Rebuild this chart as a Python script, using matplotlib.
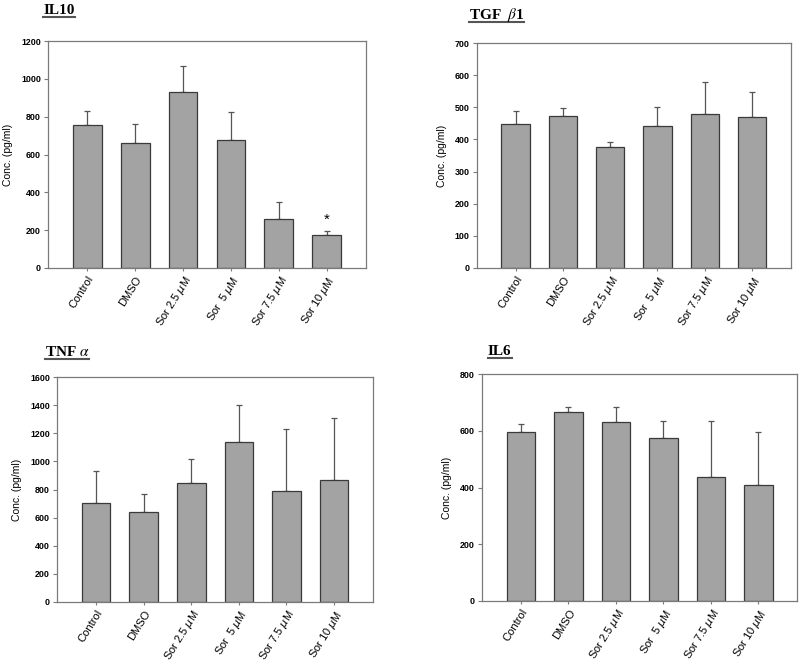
import matplotlib
matplotlib.use("Agg")
import matplotlib.pyplot as plt
from matplotlib.lines import Line2D

groups = ["Control", "DMSO", "Sor 2.5 $\\mu$M", "Sor  5 $\\mu$M", "Sor 7.5 $\\mu$M", "Sor 10 $\\mu$M"]

il10 = [755, 663, 933, 679, 261, 176]
il10_err = [73, 97, 135, 147, 90, 20]

tgfb1 = [448, 474, 375, 443, 478, 470]
tgfb1_err = [40, 23, 18, 59, 102, 77]

tnfa = [702, 641, 849, 1137, 787, 870]
tnfa_err = [232, 130, 168, 263, 440, 442]

il6 = [594, 665, 632, 575, 437, 409]
il6_err = [31, 19, 52, 61, 196, 185]

H = 666.0
panels = [
    # title, values, errors, ymax, ystep, axes rect, title x, title baseline (px from top)
    ("IL10", il10, il10_err, 1200, 200, [0.060, 0.5976, 0.3975, 0.3408], 0.054, 14),
    ("TGF  $\\beta$1", tgfb1, tgfb1_err, 700, 100, [0.596, 0.5976, 0.3925, 0.3378], 0.586, 19),
    ("TNF $\\alpha$", tnfa, tnfa_err, 1600, 200, [0.0713, 0.0961, 0.395, 0.3378], 0.056, 356),
    ("IL6", il6, il6_err, 800, 200, [0.6025, 0.0976, 0.394, 0.3408], 0.610, 355),
]

bar_color = "#a3a3a3"
edge_color = "#3a3a3a"
spine_color = "#7a7a7a"

fig = plt.figure(figsize=(8, 6.66), dpi=100)
titles = []
for title, vals, errs, ymax, ystep, rect, tx, tbase in panels:
    ax = fig.add_axes(rect)
    x = list(range(len(groups)))
    ax.bar(x, vals, width=0.6, color=bar_color, edgecolor=edge_color, linewidth=0.9, zorder=2)
    ax.errorbar(x, vals, yerr=[[0] * len(errs), errs], fmt="none", ecolor="#555555",
                elinewidth=0.9, capsize=2.5, capthick=0.9, zorder=1)
    ax.set_xlim(-0.82, 5.82)
    ax.set_ylim(0, ymax)
    ax.set_yticks(range(0, ymax + 1, ystep))
    ax.set_xticks(x)
    ax.set_xticklabels(groups, rotation=58, ha="right", rotation_mode="anchor",
                       fontsize=8, family="Liberation Sans")
    for lab in ax.get_yticklabels():
        lab.set_fontsize(6.4)
        lab.set_fontweight("bold")
        lab.set_family("Liberation Sans")
    ax.tick_params(axis="y", direction="out", length=3, width=0.8, color=spine_color, pad=2)
    ax.tick_params(axis="x", direction="out", length=2.5, width=0.8, color=spine_color, pad=2)
    for s in ax.spines.values():
        s.set_color(spine_color)
        s.set_linewidth(0.9)
    ax.set_ylabel("Conc. (pg/ml)", fontsize=7.5, family="Liberation Sans", labelpad=6)
    if title == "IL10":
        ax.text(5, 255, "*", ha="center", va="center", fontsize=11, family="Liberation Sans")
    t = fig.text(tx, 1 - tbase / H, title, fontsize=11, fontweight="bold",
                 family="Liberation Serif", math_fontfamily="stix", va="baseline", ha="left")
    titles.append((t, tbase))

# underline the panel titles just below their baseline
fig.canvas.draw()
r = fig.canvas.get_renderer()
for t, tbase in titles:
    bb = t.get_window_extent(renderer=r)
    x0, x1 = bb.x0 / fig.bbox.width, bb.x1 / fig.bbox.width
    y = 1 - (tbase + 2.5) / H
    fig.add_artist(Line2D([x0, x1], [y, y], color="#555555", linewidth=1.5,
                          transform=fig.transFigure))

fig.savefig("out.png", dpi=100)
